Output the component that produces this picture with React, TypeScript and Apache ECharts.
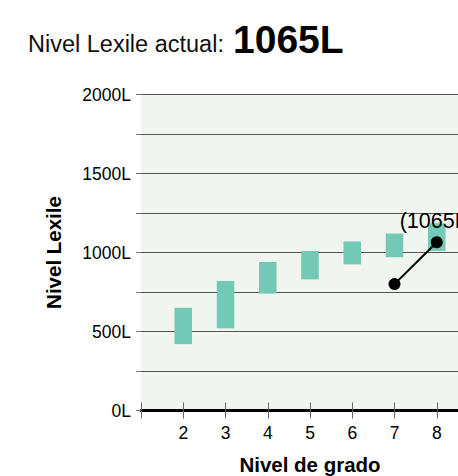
import React, { useEffect, useRef } from "react";
import * as echarts from "echarts";

const currentLexile = 1065;
const grades = [2, 3, 4, 5, 6, 7, 8];
const bandLow = [420, 520, 740, 830, 925, 970, 1010];
const bandHigh = [650, 820, 940, 1010, 1070, 1120, 1185];
const studentGrades = [7, 8];
const studentValues = [800, 1065];

const FONT = "'Liberation Sans', Arial, Helvetica, sans-serif";

export default function App() {
  const ref = useRef<HTMLDivElement>(null);
  useEffect(() => {
    if (!ref.current) return;
    const chart = echarts.init(ref.current, undefined, { renderer: "svg" });
    const bandData = grades.map((g, i) => [g, bandLow[i], bandHigh[i]]);
    const lineData = studentGrades.map((g, i) => [g, studentValues[i]]);
    chart.setOption({
      animation: false,
      textStyle: { fontFamily: FONT },
      graphic: [
        {
          type: "text",
          left: 28,
          top: 32,
          style: {
            text: "Nivel Lexile actual:",
            font: `23.5px ${FONT}`,
            fill: "#111",
          },
        },
        {
          type: "text",
          left: 233,
          top: 20,
          style: {
            text: `${currentLexile}L`,
            font: `bold 39px ${FONT}`,
            fill: "#000",
          },
        },
      ],
      grid: {
        left: 141,
        top: 94.5,
        width: 338,
        height: 316,
        show: true,
        backgroundColor: "#f1f5ef",
        borderWidth: 0,
        outerBoundsMode: "none",
        containLabel: false,
      },
      xAxis: [
        {
          type: "value",
          min: 1,
          max: 9,
          interval: 1,
          name: "Nivel de grado",
          nameLocation: "middle",
          nameGap: 43,
          nameTextStyle: { fontSize: 20.5, fontWeight: "bold", color: "#000", fontFamily: FONT },
          axisLine: { show: true, lineStyle: { color: "#000", width: 3 } },
          axisTick: { show: true, length: 8, lineStyle: { color: "#666", width: 1 } },
          axisLabel: {
            fontSize: 17.5,
            color: "#000",
            margin: 13,
            formatter: (v: number) => (v >= 2 && v <= 8 ? String(v) : ""),
          },
          splitLine: { show: false },
        },
        {
          type: "value",
          min: 1,
          max: 9,
          interval: 1,
          position: "bottom",
          axisLine: { show: false },
          axisTick: { show: true, inside: true, length: 8, lineStyle: { color: "#666", width: 1 } },
          axisLabel: { show: false },
          splitLine: { show: false },
        },
      ],
      yAxis: {
        type: "value",
        min: 0,
        max: 2000,
        interval: 250,
        name: "Nivel Lexile",
        nameLocation: "middle",
        nameGap: 77,
        nameTextStyle: { fontSize: 20.5, fontWeight: "bold", color: "#000", fontFamily: FONT },
        axisLine: { show: false },
        axisTick: { show: true, length: 5, lineStyle: { color: "#777" } },
        axisLabel: {
          fontSize: 17.5,
          color: "#000",
          margin: 10,
          formatter: (v: number) => (v % 500 === 0 ? `${v}L` : ""),
        },
        splitLine: { show: true, lineStyle: { color: "#555", width: 1 } },
      },
      series: [
        {
          type: "custom",
          xAxisIndex: 0,
          data: bandData,
          encode: { x: 0, y: [1, 2] },
          renderItem: (params: any, api: any) => {
            const x = api.value(0);
            const lo = api.coord([x, api.value(1)]);
            const hi = api.coord([x, api.value(2)]);
            const w = 17.5;
            return {
              type: "rect",
              shape: { x: lo[0] - w / 2, y: hi[1], width: w, height: lo[1] - hi[1] },
              style: { fill: "#72c9b5" },
            };
          },
          z: 2,
        },
        {
          type: "line",
          xAxisIndex: 0,
          data: lineData,
          symbol: "circle",
          symbolSize: 12,
          lineStyle: { color: "#000", width: 2 },
          itemStyle: { color: "#000" },
          label: {
            show: true,
            position: "top",
            distance: 4,
            fontSize: 21.5,
            color: "#000",
            fontFamily: FONT,
            formatter: (p: any) => (p.dataIndex === lineData.length - 1 ? `(${p.value[1]}L)` : ""),
          },
          z: 5,
        },
      ],
    });
    return () => chart.dispose();
  }, []);
  return (
    <div
      ref={ref}
      style={{ position: "fixed", left: 0, top: 0, width: 458, height: 476, background: "#fff" }}
    />
  );
}
